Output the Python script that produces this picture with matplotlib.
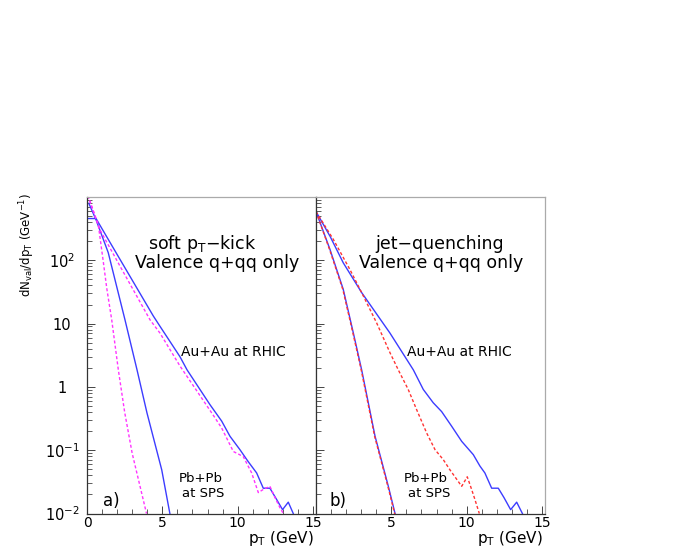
import matplotlib
matplotlib.use("Agg")
import matplotlib.pyplot as plt
from matplotlib.ticker import LogLocator, FixedLocator, NullFormatter, FixedFormatter

plt.rcParams['font.family'] = ['DejaVu Sans']
plt.rcParams['mathtext.default'] = 'regular'

# ---- data (pT in GeV, dN/dpT in 1/GeV) ----
# a) soft pT-kick
soft_rhic_pt = [0.05, 0.6, 1.41, 4.4, 4.84, 6.17, 6.64, 8.16, 8.94, 9.49, 10.15, 10.7,
                11.26, 11.7, 12.14, 12.59, 12.98, 13.36, 13.69]
soft_rhic = [457, 457, 214, 13.2, 9.1, 3.0, 1.86, 0.525, 0.288, 0.166, 0.102, 0.066,
             0.0437, 0.0251, 0.0251, 0.0166, 0.0115, 0.0151, 0.0100]
soft_sps_pt = [0.12, 0.6, 1.41, 2.52, 3.32, 3.98, 4.96, 5.5]
soft_sps = [794, 437, 132, 11.5, 1.86, 0.389, 0.049, 0.0100]
soft_rhic_ref_pt = [0.05, 0.86, 2.19, 4.18, 4.84, 6.17, 8.36, 8.94, 9.71, 10.37, 10.93,
                    11.37, 11.7, 12.14, 12.48, 12.81, 13.03]
soft_rhic_ref = [1050, 302, 81, 11.5, 7.1, 2.14, 0.363, 0.224, 0.0955, 0.0794, 0.0437,
                 0.0214, 0.024, 0.0269, 0.0178, 0.0123, 0.0100]
soft_sps_ref_pt = [0.05, 0.2, 0.75, 1.08, 1.31, 1.64, 2.08, 2.5, 3.0, 3.95]
soft_sps_ref = [1050, 851, 363, 95.5, 36.3, 11.5, 1.86, 0.398, 0.089, 0.0100]

# b) jet-quenching
jet_rhic_pt = [0, 0.93, 1.81, 3.03, 4.91, 6.46, 7.12, 7.78, 8.34, 9.0, 9.67, 10.44,
               10.88, 11.21, 11.66, 12.1, 12.48, 12.92, 13.32, 13.7]
jet_rhic = [589, 240, 91.2, 30.9, 7.08, 1.86, 0.912, 0.562, 0.407, 0.240, 0.138, 0.0851,
            0.0562, 0.0437, 0.0251, 0.0251, 0.0178, 0.0115, 0.0151, 0.0100]
jet_sps_pt = [0, 0.93, 1.81, 2.48, 3.03, 3.92, 4.8, 5.3]
jet_sps = [589, 148, 34.7, 7.08, 1.86, 0.166, 0.0269, 0.0089]
jet_rhic_q_pt = [0, 1.15, 2.26, 3.03, 4.03, 4.91, 5.46, 6.12, 6.68, 7.35, 7.9, 8.45,
                 8.89, 9.34, 9.67, 10.04, 10.33, 10.55, 10.84]
jet_rhic_q = [589, 214, 70.8, 30.9, 10.2, 3.47, 1.86, 0.912, 0.437, 0.186, 0.102, 0.0708,
              0.049, 0.0347, 0.0269, 0.038, 0.024, 0.0166, 0.0100]
jet_sps_q_pt = [0, 0.9, 1.78, 2.45, 3.0, 3.89, 4.77, 5.27]
jet_sps_q = [589, 148, 34.7, 7.08, 1.86, 0.166, 0.0269, 0.0089]

ytick_vals = [1e-2, 1e-1, 1, 10, 1e2]
ytick_text = ['10$^{-2}$', '10$^{-1}$', '1', '10', '10$^{2}$']

blue = '#3c3cff'
magenta = '#ff33ff'
red = '#ff3333'
dash = (0, (2.2, 1.6))

fig = plt.figure(figsize=(6.92, 5.54), dpi=100)
axa = fig.add_axes([87/692, 1 - 513.5/554, 229/692, 316.5/554])
axb = fig.add_axes([316/692, 1 - 513.5/554, 229/692, 316.5/554])

axa.plot(soft_rhic_pt, soft_rhic, color=blue, lw=1.0)
axa.plot(soft_sps_pt, soft_sps, color=blue, lw=1.0)
axa.plot(soft_rhic_ref_pt, soft_rhic_ref, color=magenta, lw=1.0, ls=dash)
axa.plot(soft_sps_ref_pt, soft_sps_ref, color=magenta, lw=1.0, ls=dash)

axb.plot(jet_rhic_pt, jet_rhic, color=blue, lw=1.0)
axb.plot(jet_sps_pt, jet_sps, color=blue, lw=1.0)
axb.plot(jet_rhic_q_pt, jet_rhic_q, color=red, lw=1.0, ls=dash)
axb.plot(jet_sps_q_pt, jet_sps_q, color=red, lw=1.0, ls=dash)

for ax in (axa, axb):
    ax.set_yscale('log')
    ax.set_xlim(0, 15.2)
    ax.set_ylim(1e-2, 1e3)
    ax.xaxis.set_major_locator(FixedLocator([0, 5, 10, 15]))
    ax.xaxis.set_minor_locator(FixedLocator(range(0, 16)))
    ax.yaxis.set_major_locator(FixedLocator(ytick_vals))
    ax.yaxis.set_minor_locator(LogLocator(base=10, subs=range(2, 10)))
    ax.yaxis.set_minor_formatter(NullFormatter())
    ax.tick_params(which='both', direction='in', top=False, right=False,
                   labelsize=10.5, color='#444444')
    ax.tick_params(which='major', length=5.5, width=0.7)
    ax.tick_params(which='minor', length=3.5, width=0.6)
    ax.tick_params(axis='x', pad=2, labelsize=10)
    for s in ('left', 'bottom'):
        ax.spines[s].set_color('#333333')
        ax.spines[s].set_linewidth(0.9)
    for s in ('top', 'right'):
        ax.spines[s].set_color('#aaaaaa')
        ax.spines[s].set_linewidth(0.9)
    ax.text(0.99, -0.078, 'p$_{T}$ (GeV)', transform=ax.transAxes,
            ha='right', va='center', fontsize=11)

axa.yaxis.set_major_formatter(FixedFormatter(ytick_text))
axa.tick_params(axis='y', pad=18)
for lab in axa.get_yticklabels():
    lab.set_horizontalalignment('center')
axb.set_xticks([0, 5, 10, 15])
axb.set_xticklabels(['', '5', '10', '15'])
axb.tick_params(axis='y', labelleft=False)

axa.text(-0.262, 0.85, 'dN$_{val}$/dp$_{T}$ (GeV$^{-1}$)', transform=axa.transAxes,
         rotation=90, ha='center', va='center', fontsize=8.5)

# panel texts
axa.text(0.502, 0.850, 'soft p$_{T}$\u2212kick', transform=axa.transAxes,
         ha='center', va='center', fontsize=12.5)
axa.text(0.570, 0.790, 'Valence q+qq only', transform=axa.transAxes,
         ha='center', va='center', fontsize=12.5)
axa.text(0.640, 0.509, 'Au+Au at RHIC', transform=axa.transAxes,
         ha='center', va='center', fontsize=10)
axa.text(0.498, 0.110, 'Pb+Pb', transform=axa.transAxes,
         ha='center', va='center', fontsize=9.5)
axa.text(0.507, 0.063, 'at SPS', transform=axa.transAxes,
         ha='center', va='center', fontsize=9.5)
axa.text(0.105, 0.039, 'a)', transform=axa.transAxes,
         ha='center', va='center', fontsize=12)

axb.text(0.539, 0.850, 'jet\u2212quenching', transform=axb.transAxes,
         ha='center', va='center', fontsize=12.5)
axb.text(0.548, 0.790, 'Valence q+qq only', transform=axb.transAxes,
         ha='center', va='center', fontsize=12.5)
axb.text(0.627, 0.509, 'Au+Au at RHIC', transform=axb.transAxes,
         ha='center', va='center', fontsize=10)
axb.text(0.480, 0.110, 'Pb+Pb', transform=axb.transAxes,
         ha='center', va='center', fontsize=9.5)
axb.text(0.493, 0.063, 'at SPS', transform=axb.transAxes,
         ha='center', va='center', fontsize=9.5)
axb.text(0.094, 0.039, 'b)', transform=axb.transAxes,
         ha='center', va='center', fontsize=12)

fig.savefig('out.png', dpi=100)
